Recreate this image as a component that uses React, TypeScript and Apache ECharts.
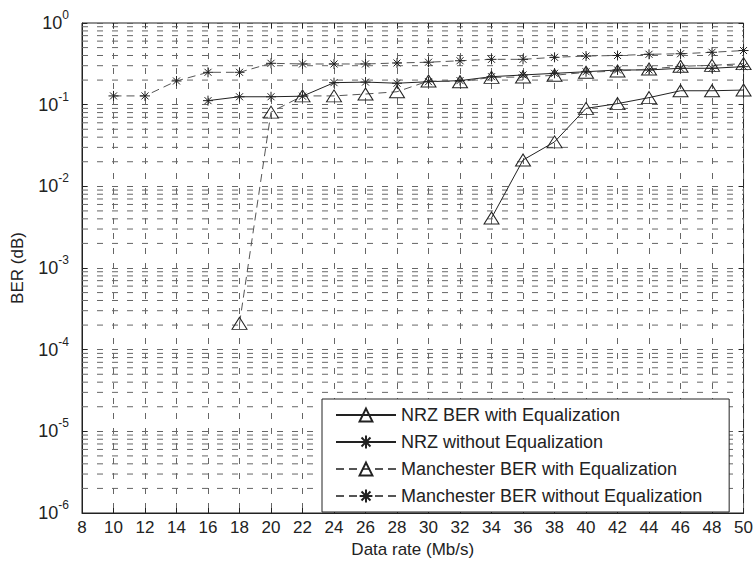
import React, { useEffect, useRef } from "react";
import * as echarts from "echarts";

// ---- data ----
const nrzEqRates = [34, 36, 38, 40, 42, 44, 46, 48, 50];
const nrzEqBer = [0.0041, 0.021, 0.035, 0.09, 0.103, 0.122, 0.148, 0.148, 0.151];

const nrzNoEqRates = [16, 18, 20, 22, 24, 26, 28, 30, 32, 34, 36, 38, 40, 42, 44, 46, 48, 50];
const nrzNoEqBer = [0.112, 0.125, 0.125, 0.127, 0.186, 0.189, 0.183, 0.191, 0.197, 0.22, 0.231, 0.242, 0.253, 0.266, 0.266, 0.279, 0.279, 0.292];

const manEqRates = [18, 20, 22, 24, 26, 28, 30, 32, 34, 36, 38, 40, 42, 44, 46, 48, 50];
const manEqBer = [0.00021, 0.081, 0.128, 0.128, 0.135, 0.144, 0.195, 0.191, 0.216, 0.218, 0.229, 0.249, 0.258, 0.273, 0.295, 0.303, 0.318];

const manNoEqRates = [10, 12, 14, 16, 18, 20, 22, 24, 26, 28, 30, 32, 34, 36, 38, 40, 42, 44, 46, 48, 50];
const manNoEqBer = [0.128, 0.128, 0.195, 0.249, 0.249, 0.321, 0.315, 0.315, 0.315, 0.324, 0.331, 0.345, 0.359, 0.359, 0.38, 0.394, 0.4, 0.414, 0.42, 0.438, 0.46];

const seriesNames = [
  "NRZ BER with Equalization",
  "NRZ without Equalization",
  "Manchester BER with Equalization",
  "Manchester BER without Equalization",
];

const xRange = [8, 50];
const decadeExponents = [-6, -5, -4, -3, -2, -1];
const minorMultipliers = [2, 3, 4, 5, 6, 7, 8, 9];

const xAxisName = "Data rate (Mb/s)";
const yAxisName = "BER (dB)";

const FONT = "'Liberation Sans', Arial, Helvetica, sans-serif";
const STAR = "path://M5,0L5,10M0,5L10,5M1.5,1.5L8.5,8.5M8.5,1.5L1.5,8.5";
const GRID_DASH = [6, 9];
const GRID_COLOR = "#666";

function pairs(xs: number[], ys: number[]) {
  return xs.map((x, i) => [x, ys[i]]);
}

export default function App() {
  const ref = useRef<HTMLDivElement>(null);

  useEffect(() => {
    if (!ref.current) return;
    const chart = echarts.init(ref.current, undefined, { renderer: "svg" });

    const minorGridSeries: any[] = [];
    decadeExponents.forEach((e) => {
      minorMultipliers.forEach((m) => {
        const v = m * Math.pow(10, e);
        minorGridSeries.push({
          name: "grid-" + m + "e" + e,
          type: "line",
          data: [
            [xRange[0], v],
            [xRange[1], v],
          ],
          z: 1,
          silent: true,
          symbol: "none",
          showSymbol: false,
          lineStyle: { color: GRID_COLOR, width: 1, type: GRID_DASH },
          emphasis: { disabled: true },
          tooltip: { show: false },
        });
      });
    });

    const makeSeries = (
      name: string,
      data: number[][],
      symbol: string,
      symbolSize: number | number[],
      dashed: boolean
    ) => ({
      name,
      type: "line",
      data,
      z: 3,
      symbol,
      symbolSize,
      showSymbol: true,
      lineStyle: {
        color: dashed ? "#555" : "#222",
        width: 1,
        type: dashed ? [8, 5] : "solid",
      },
      itemStyle: {
        color: "rgba(0,0,0,0)",
        borderColor: "#222",
        borderWidth: 1,
      },
      emphasis: { disabled: true },
    });

    const option: any = {
      animation: false,
      backgroundColor: "#fff",
      textStyle: { fontFamily: FONT },
      grid: {
        left: 82,
        top: 23,
        right: 11,
        bottom: 50,
        show: true,
        borderColor: "#222",
        borderWidth: 1,
        backgroundColor: "transparent",
      },
      legend: {
        data: seriesNames,
        orient: "vertical",
        left: 322,
        top: 399,
        padding: [6, 27, 6, 13],
        itemGap: 7,
        itemWidth: 60,
        itemHeight: 16,
        backgroundColor: "#fff",
        borderColor: "#222",
        borderWidth: 1,
        borderRadius: 0,
        textStyle: {
          fontFamily: FONT,
          fontSize: 18,
          color: "#222",
          lineHeight: 20,
        },
      },
      xAxis: [
        {
          type: "value",
          min: xRange[0],
          max: xRange[1],
          interval: 2,
          name: xAxisName,
          nameLocation: "middle",
          nameGap: 28,
          nameTextStyle: { fontFamily: FONT, fontSize: 17, color: "#222" },
          axisLine: { show: true, lineStyle: { color: "#222", width: 1 } },
          axisTick: { show: true, inside: true, length: 5, lineStyle: { color: "#222" } },
          axisLabel: { fontFamily: FONT, fontSize: 17, color: "#222", margin: 6 },
          splitLine: {
            show: true,
            lineStyle: { color: GRID_COLOR, width: 1, type: GRID_DASH },
          },
        },
        {
          type: "value",
          position: "top",
          min: xRange[0],
          max: xRange[1],
          interval: 2,
          axisLine: { show: false },
          axisTick: { show: true, inside: true, length: 5, lineStyle: { color: "#222" } },
          axisLabel: { show: false },
          splitLine: { show: false },
        },
      ],
      yAxis: [
        {
          type: "log",
          logBase: 10,
          min: 1e-6,
          max: 1,
          interval: 1,
          splitNumber: 6,
          name: yAxisName,
          nameLocation: "middle",
          nameGap: 56,
          nameTextStyle: { fontFamily: FONT, fontSize: 17, color: "#222" },
          axisLine: { show: true, lineStyle: { color: "#222", width: 1 } },
          axisTick: { show: true, inside: true, length: 5, lineStyle: { color: "#222" } },
          axisLabel: {
            margin: 13,
            formatter: (v: number) => {
              const e = Math.round(Math.log10(v));
              return `{b|10}{s|${e}}`;
            },
            rich: {
              b: { fontFamily: FONT, fontSize: 18, color: "#222" },
              s: { fontFamily: FONT, fontSize: 12, color: "#222", padding: [0, 0, 16, 0] },
            },
          },
          splitLine: {
            show: true,
            lineStyle: { color: GRID_COLOR, width: 1, type: GRID_DASH },
          },
        },
        {
          type: "log",
          logBase: 10,
          position: "right",
          min: 1e-6,
          max: 1,
          interval: 1,
          splitNumber: 6,
          axisLine: { show: false },
          axisTick: { show: true, inside: true, length: 5, lineStyle: { color: "#222" } },
          axisLabel: { show: false },
          splitLine: { show: false },
        },
      ],
      series: [
        ...minorGridSeries,
        makeSeries(seriesNames[0], pairs(nrzEqRates, nrzEqBer), "triangle", [15, 12], false),
        makeSeries(seriesNames[1], pairs(nrzNoEqRates, nrzNoEqBer), STAR, 10, false),
        makeSeries(seriesNames[2], pairs(manEqRates, manEqBer), "triangle", [15, 12], true),
        makeSeries(seriesNames[3], pairs(manNoEqRates, manNoEqBer), STAR, 10, true),
      ],
    };

    chart.setOption(option);
    return () => chart.dispose();
  }, []);

  return (
    <div
      ref={ref}
      style={{ position: "fixed", left: 0, top: 0, width: 756, height: 563, background: "#fff" }}
    />
  );
}
